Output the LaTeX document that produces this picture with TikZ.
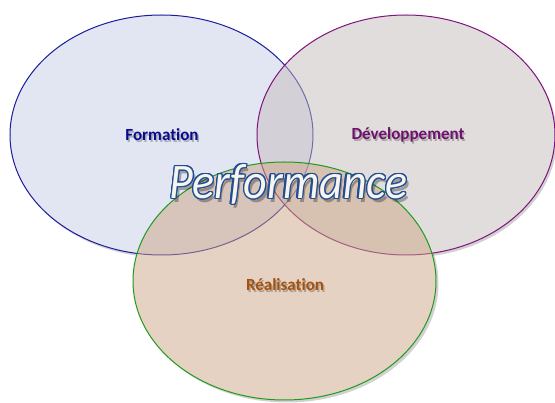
\documentclass[tikz,border=0pt]{standalone}
\usepackage{fontspec}
\setmainfont[Ligatures=NoCommon]{Carlito}
\usepackage{contour}
\contourlength{1.3pt}
\definecolor{fillA}{HTML}{C7CDE7}
\definecolor{fillB}{HTML}{C7BDBD}
\definecolor{fillC}{HTML}{CDA787}
\definecolor{lineA}{HTML}{1C1C9C}
\definecolor{lineB}{HTML}{7E137E}
\definecolor{lineC}{HTML}{1E9A1E}
\definecolor{txtA}{HTML}{0A0A8C}
\definecolor{txtB}{HTML}{6E106E}
\definecolor{txtC}{HTML}{A4520F}
\definecolor{perfline}{HTML}{1F4E96}
\definecolor{perffill}{HTML}{F6F4EC}
\tikzset{
  circ/.style={fill opacity=0.5, line width=1pt},
  shade/.style={fill=black, fill opacity=0.18, draw=none},
  lbl/.style={font=\bfseries\fontsize{17}{17}\selectfont, inner sep=0pt},
  lblshadow/.style={lbl, text=black, text opacity=0.25},
  perf/.style={font=\itshape\fontsize{46}{46}\selectfont, inner sep=0pt, yscale=1.08}
}
\begin{document}
\begin{tikzpicture}[x=1pt,y=-1pt]
\useasboundingbox (0,0) rectangle (555,403);
% shadows
\fill[shade] (163.5,137.5) ellipse [x radius=151.5, y radius=120];
\fill[shade] (408,137.5) ellipse [x radius=149, y radius=120];
\fill[shade] (287,283.5) ellipse [x radius=151.5, y radius=119];
% white bases
\fill[white] (161.5,135) ellipse [x radius=151.5, y radius=120];
\fill[white] (406,135) ellipse [x radius=149, y radius=120];
\fill[white] (284.5,281) ellipse [x radius=151.5, y radius=119];
% ellipses
\path[circ, fill=fillA] (161.5,135) ellipse [x radius=151.5, y radius=120];
\draw[lineA, line width=1pt] (161.5,135) ellipse [x radius=151.5, y radius=120];
\path[circ, fill=fillB] (406,135) ellipse [x radius=149, y radius=120];
\draw[lineB, line width=1pt] (406,135) ellipse [x radius=149, y radius=120];
\path[circ, fill=fillC] (284.5,281) ellipse [x radius=151.5, y radius=119];
\draw[lineC, line width=1pt] (284.5,281) ellipse [x radius=151.5, y radius=119];
% labels
\node[lblshadow] at (163.5,137) {Formation};
\node[lbl, text=txtA] (f) at (162,135) {Formation};
\node[lblshadow] at (409.5,137) {Développement};
\node[lbl, text=txtB] (d) at (408,135) {Développement};
\node[lblshadow] at (286.5,287) {Réalisation};
\node[lbl, text=txtC] (r) at (285,285) {Réalisation};
\node[perf, text=black, text opacity=0.3] at (291,188) {Performance};
\node[perf] (p) at (288.5,185) {\contour{perfline}{\textcolor{perffill}{Performance}}};
\end{tikzpicture}
\end{document}
